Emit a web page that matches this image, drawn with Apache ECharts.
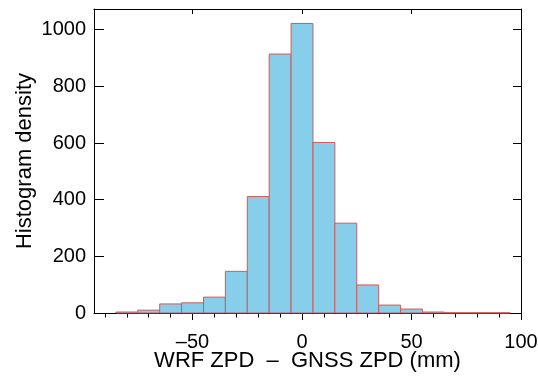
<!DOCTYPE html>
<html><head><meta charset="utf-8">
<script src="https://cdn.jsdelivr.net/npm/echarts@6/dist/echarts.min.js"></script>
<style>html,body{margin:0;padding:0;background:#fff}#c{width:538px;height:380px}</style>
</head><body><div id="c"></div>
<script>
var binStarts = [-85,-75,-65,-55,-45,-35,-25,-15,-5,5,15,25,35,45,55,65,75,85];
var binWidth = 10;
var density = [3.5,10,32,36,56,147,411,914,1022,602,317,99,28,14,3.5,1,1,1];
var xMajorTicks = [-50,0,50,100];
var xMinorTicks = [-90,-80,-70,-60,-40,-30,-20,-10,10,20,30,40,60,70,80,90];
var FONT = 'Liberation Sans, Arial, Helvetica, sans-serif';

var data = binStarts.map(function(s,i){return [s, s+binWidth, density[i]];});
var chart = echarts.init(document.getElementById('c'), null, {renderer:'canvas'});
var lineStyle = {color:'#000', width:1};
chart.setOption({
  animation:false,
  grid:{left:94, top:9, width:427, height:304, containLabel:false, outerBoundsMode:'none'},
  xAxis:[
    {type:'value', min:-95, max:100, position:'bottom',
     axisLine:{show:true, onZero:false, lineStyle:lineStyle},
     axisTick:{show:true, inside:false, length:7, customValues:xMajorTicks, lineStyle:lineStyle},
     axisLabel:{customValues:xMajorTicks, color:'#000', fontSize:20, fontFamily:FONT, margin:19,
       formatter:function(v){return v<0 ? '\u2013'+Math.abs(v) : String(v);}},
     splitLine:{show:false},
     name:'WRF ZPD  \u2013  GNSS ZPD (mm)', nameLocation:'middle', nameGap:37, nameMoveOverlap:false,
     nameTextStyle:{color:'#000', fontSize:22, fontFamily:FONT}},
    {type:'value', min:-95, max:100, position:'bottom',
     axisLine:{show:false},
     axisTick:{show:true, inside:false, length:4.5, customValues:xMinorTicks, lineStyle:lineStyle},
     axisLabel:{show:false}, splitLine:{show:false}},
    {type:'value', min:-95, max:100, position:'top',
     axisLine:{show:true, onZero:false, lineStyle:lineStyle},
     axisTick:{show:true, inside:true, length:5, customValues:xMajorTicks, lineStyle:lineStyle},
     axisLabel:{show:false}, splitLine:{show:false}}
  ],
  yAxis:[
    {type:'value', min:0, max:1073, interval:200, position:'left',
     axisLine:{show:true, onZero:false, lineStyle:lineStyle},
     axisTick:{show:true, inside:true, length:10, lineStyle:lineStyle},
     axisLabel:{color:'#000', fontSize:20, fontFamily:FONT, margin:8, showMaxLabel:false,
       formatter:function(v){return String(v);}},
     splitLine:{show:false},
     name:'Histogram density', nameLocation:'middle', nameGap:58, nameMoveOverlap:false,
     nameTextStyle:{color:'#000', fontSize:22, fontFamily:FONT}},
    {type:'value', min:0, max:1073, interval:200, position:'right',
     axisLine:{show:true, onZero:false, lineStyle:lineStyle},
     axisTick:{show:true, inside:true, length:8, lineStyle:lineStyle},
     axisLabel:{show:false}, splitLine:{show:false}}
  ],
  series:[{
    type:'custom', xAxisIndex:0, yAxisIndex:0, data:data,
    encode:{x:[0,1], y:2},
    renderItem:function(params, api){
      var p0 = api.coord([api.value(0), 0]);
      var p1 = api.coord([api.value(1), api.value(2)]);
      return {type:'rect',
        shape:{x:p0[0], y:p1[1], width:p1[0]-p0[0], height:p0[1]-p1[1]},
        style:{fill:'#87CEEB', stroke:'#cd5c5c', lineWidth:1}};
    }
  }]
});
</script></body></html>
